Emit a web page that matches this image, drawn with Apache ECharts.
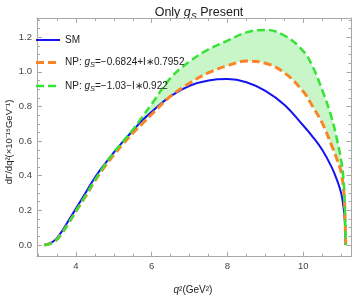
<!DOCTYPE html>
<html>
<head>
<meta charset="utf-8">
<script src="https://cdn.jsdelivr.net/npm/echarts@6/dist/echarts.min.js"></script>
<style>html,body{margin:0;padding:0;background:#fff;}#c{width:354px;height:300px;}</style>
</head>
<body>
<div id="c"></div>
<script>
// q^2 grid (GeV^2)
const qsq = [3.16,3.4,3.6,3.8,4.0,4.25,4.5,4.75,5.0,5.25,5.5,5.75,6.0,6.5,7.0,7.5,8.0,8.5,9.0,9.5,10.0,10.25,10.5,10.75,10.9,11.0,11.05,11.09,11.12];
// SM
const sm  = [0,0.02,0.07,0.14,0.21,0.30,0.39,0.465,0.535,0.60,0.66,0.72,0.77,0.86,0.92,0.95,0.958,0.94,0.89,0.81,0.69,0.625,0.55,0.45,0.37,0.30,0.24,0.16,0];
// NP: gS = -0.6824 + I*0.7952
const np1 = [0,0.015,0.06,0.125,0.195,0.28,0.37,0.45,0.52,0.585,0.645,0.70,0.755,0.86,0.935,0.995,1.035,1.062,1.05,0.995,0.886,0.80,0.705,0.575,0.49,0.42,0.35,0.25,0];
// NP: gS = -1.03 - I*0.922
const np2 = [0,0.015,0.06,0.125,0.195,0.285,0.375,0.46,0.535,0.60,0.665,0.74,0.815,0.965,1.06,1.13,1.18,1.228,1.242,1.21,1.12,1.03,0.895,0.735,0.60,0.49,0.41,0.28,0];

const xMajor = [4,6,8,10];
const xMinor = [3,3.5,4.5,5,5.5,6.5,7,7.5,8.5,9,9.5,10.5,11];
const yMajor = [0,0.2,0.4,0.6,0.8,1.0,1.2];
const yMinor = [0.05,0.1,0.15,0.25,0.3,0.35,0.45,0.5,0.55,0.65,0.7,0.75,0.85,0.9,0.95,1.05,1.1,1.15,1.25,1.3];

const XMIN = 2.971, XMAX = 11.274, YMIN = -0.0676, YMAX = 1.311;
const FONT = '"Liberation Sans",Arial,sans-serif';
const frame = '#a8a8a8';
const C_SM = '#1414f2', C_NP1 = '#fa8526', C_NP2 = '#36e236', C_BAND = '#c9f6c9';

function mkAxis(kind, pos, ticks, len, showLine, labels) {
  return {
    type: 'value', position: pos, z: 10,
    min: kind === 'x' ? XMIN : YMIN, max: kind === 'x' ? XMAX : YMAX,
    axisLine: {show: showLine, onZero: false, lineStyle: {color: frame, width: 1}},
    axisTick: {show: true, inside: true, length: len, customValues: ticks, lineStyle: {color: frame, width: 1}},
    axisLabel: {show: !!labels, customValues: labels || [], color: '#444', fontSize: 9.5, fontFamily: FONT, margin: 5,
      formatter: kind === 'y' ? (v => Number(v).toFixed(1)) : (v => String(v))},
    splitLine: {show: false}
  };
}

const smData = qsq.map((x, i) => [x, sm[i]]);
const np1Data = qsq.map((x, i) => [x, np1[i]]);
const np2Data = qsq.map((x, i) => [x, np2[i]]);

const richL = {
  i: {fontStyle: 'italic', fontSize: 10, fontFamily: FONT, fill: '#222'},
  s: {fontStyle: 'italic', fontSize: 7.5, fontFamily: FONT, fill: '#222', padding: [5, 0, 0, 0]}
};

function legendItem(y, color, width, dash, text) {
  return [
    {type: 'line', shape: {x1: 36, y1: y, x2: 60, y2: y},
     style: {stroke: color, lineWidth: width, lineDash: dash}, z: 20},
    {type: 'text', x: 65, y: y, z: 20,
     style: {text: text, fill: '#222', font: '10px ' + FONT, verticalAlign: 'middle', rich: richL}}
  ];
}

const chart = echarts.init(document.getElementById('c'), null, {renderer: 'canvas'});
chart.setOption({
  animation: false,
  backgroundColor: '#fff',
  grid: {left: 37, right: 2.5, top: 18, bottom: 43.3, containLabel: false},
  title: {
    text: 'Only {ti|g}{ts|S} Present', left: 194, top: -1, textAlign: 'center',
    textStyle: {fontSize: 12.5, fontWeight: 'normal', color: '#222', fontFamily: FONT, lineHeight: 17,
      rich: {ti: {fontStyle: 'italic', fontSize: 12.5, fontFamily: FONT, color: '#222', lineHeight: 17},
             ts: {fontStyle: 'italic', fontSize: 9, fontFamily: FONT, color: '#222', lineHeight: 17, verticalAlign: 'bottom'}}}
  },
  xAxis: [
    mkAxis('x', 'bottom', xMajor, 5, true, xMajor),
    mkAxis('x', 'bottom', xMinor, 3, false, null),
    mkAxis('x', 'top', xMajor, 5, true, null),
    mkAxis('x', 'top', xMinor, 3, false, null)
  ],
  yAxis: [
    mkAxis('y', 'left', yMajor, 5, true, yMajor),
    mkAxis('y', 'left', yMinor, 3, false, null),
    mkAxis('y', 'right', yMajor, 5, true, null),
    mkAxis('y', 'right', yMinor, 3, false, null)
  ],
  graphic: [
    {type: 'text', x: 9, y: 142, rotation: Math.PI / 2,
     style: {text: 'dΓ/dq²(×10⁻¹⁵GeV⁻¹)', fill: '#222', font: '9.5px ' + FONT, align: 'center', verticalAlign: 'middle'}},
    {type: 'text', x: 193, y: 290,
     style: {text: '{qi|q}²(GeV²)', fill: '#222', font: '10px ' + FONT, align: 'center', verticalAlign: 'middle',
       rich: {qi: {fontStyle: 'italic', fontSize: 10, fontFamily: FONT, fill: '#222'}}}},
    ...legendItem(40, C_SM, 2, null, 'SM'),
    ...legendItem(62.5, C_NP1, 3, [8, 4], 'NP: {i|g}{s|S}=−0.6824+I∗0.7952'),
    ...legendItem(86, C_NP2, 2.5, [8, 4], 'NP: {i|g}{s|S}=−1.03−I∗0.922')
  ],
  series: [
    {name: 'bandTop', type: 'line', data: np2Data, smooth: 0.4, symbol: 'none',
     lineStyle: {opacity: 0}, areaStyle: {color: C_BAND, opacity: 1}, silent: true, z: 1},
    {name: 'bandCut', type: 'line', data: np1Data, smooth: 0.4, symbol: 'none',
     lineStyle: {opacity: 0}, areaStyle: {color: '#ffffff', opacity: 1}, silent: true, z: 1.5},
    {name: 'SM', type: 'line', data: smData, smooth: 0.4, symbol: 'none',
     lineStyle: {color: C_SM, width: 2}, z: 3},
    {name: 'NP1', type: 'line', data: np1Data, smooth: 0.4, symbol: 'none',
     lineStyle: {color: C_NP1, width: 3, type: [8, 4]}, z: 4},
    {name: 'NP2', type: 'line', data: np2Data, smooth: 0.4, symbol: 'none',
     lineStyle: {color: C_NP2, width: 2.5, type: [8, 4]}, z: 5}
  ]
});
</script>
</body>
</html>
